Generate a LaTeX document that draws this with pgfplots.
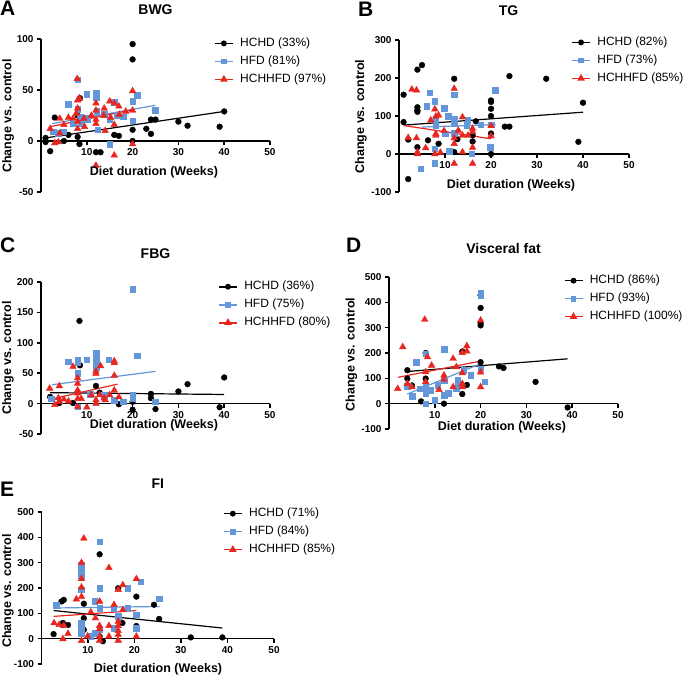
\documentclass[border=0pt]{standalone}
\usepackage{pgfplots}
\pgfplotsset{compat=1.18}
\usepackage{fontspec}
\setmainfont{Liberation Sans}
\definecolor{gpblue}{RGB}{100,150,218}
\definecolor{gpred}{RGB}{232,38,32}
\pgfplotsset{
  gp/.style={
    scale only axis, clip=false,
    axis x line=middle, axis y line=left,
    axis line style={-, line width=1.6pt},
    every inner x axis line/.append style={-},
    every outer y axis line/.append style={-},
    xmin=0, xmax=50, xtick={10,20,30,40,50}, xticklabels={10,20,30,40,50},
    tick align=outside, major tick length=4pt,
    every tick/.style={black, line width=1.6pt},
    tick label style={font=\bfseries\fontsize{10}{12}\selectfont},
    label style={font=\bfseries\fontsize{12.5}{15}\selectfont},
    title style={font=\bfseries\fontsize{14}{16}\selectfont, anchor=base, yshift=18pt},
    xlabel={Diet duration (Weeks)}, ylabel={Change vs. control},
    legend cell align=left,
    legend image code/.code={\draw[mark repeat=2,mark phase=2,#1] plot coordinates {(0pt,0pt) (9pt,0pt) (18pt,0pt)};},
    legend style={draw=none, fill=none, anchor=north west, inner sep=0pt,
      font=\fontsize{12}{14}\selectfont,
      nodes={inner sep=0.5pt, text height=9pt, text depth=3pt},
      row sep=5pt, column sep=6pt},
  },
  bk/.style={only marks, mark=*, mark size=2.9pt, color=black, forget plot},
  bl/.style={only marks, mark=square*, mark size=2.8pt, color=gpblue, mark options={draw=gpblue, fill=gpblue}, forget plot},
  rd/.style={only marks, mark=triangle*, mark size=3.8pt, color=gpred, mark options={draw=gpred, fill=gpred}, forget plot},
  bkl/.style={black, line width=1.2pt, no marks, forget plot},
  bll/.style={gpblue, line width=1.2pt, no marks, forget plot},
  rdl/.style={gpred, line width=1.2pt, no marks, forget plot},
  lbk/.style={black, line width=1.6pt, mark=*, mark size=2.1pt},
  lbl/.style={gpblue, line width=1.6pt, mark=square*, mark size=2.1pt},
  lrd/.style={gpred, line width=1.6pt, mark=triangle*, mark size=2.9pt},
}
\begin{document}
\begin{tikzpicture}
\useasboundingbox (0pt,0pt) rectangle (685pt,675pt);
% ---------------- A: BWG
\begin{axis}[gp, at={(41pt,483pt)}, anchor=south west, width=229pt, height=153pt,
  ymin=-50, ymax=100, ytick={-50,0,50,100}, yticklabels={-50,0,50,100},
  title={BWG}, title style={at={(axis description cs:0.5,1)}},
  xlabel style={at={(axis description cs:0.493,0.111)}, anchor=base},
  ylabel style={at={(axis description cs:-0.129,0.497)}, anchor=base},
  legend style={at={(axis description cs:0.755,1.015)}}]
\addlegendimage{lbk}
\addlegendentry{HCHD (33\%)}
\addlegendimage{lbl}
\addlegendentry{HFD (81\%)}
\addlegendimage{lrd}
\addlegendentry{HCHHFD (97\%)}
\addplot[bk] coordinates {(1,3) (1,-1) (2,-10) (3,23) (5,0) (6,6) (8,4) (8.4,-3) (8.5,42) (8,25) (12,-11) (13,-11) (16,6) (17,5) (20,95) (20,80) (20,11) (20,0) (23,12) (24,7) (24,21) (25,21) (30,19) (32,15) (39,14) (40,29)};
\addplot[bl] coordinates {(2.6,9) (3.8,7.5) (4.8,9) (6,36) (7,17) (8,60) (8,31) (8.6,24) (8.8,17) (9.9,23) (10,46) (10.2,21) (12,47) (12,43) (12.2,29) (12.4,11) (13.8,26) (15,-3) (15,21) (16,38) (16.7,25) (18,24) (20,39) (20,20) (21,45) (25,30)};
\addplot[rd] coordinates {(2,12) (3,-2) (3.8,-1) (4.1,22) (4.1,7.5) (5,16) (6,23) (7,22) (7.9,61) (8,40) (8.4,42) (8,32) (7.7,27) (8,19) (8,12) (9.4,22) (9.5,14) (11,25) (12,37) (12,30) (12,21) (12,17) (12,-24) (13.7,25) (13.8,32) (14,10) (15,39) (15.2,23) (16,37) (16,16) (16,-14) (17,34) (17.1,26) (18.5,29) (20,49) (20,30) (20,-3)};
\addplot[bkl] coordinates {(1,3) (40,29)};
\addplot[bll] coordinates {(2.4,17) (25,35)};
\addplot[rdl] coordinates {(2,14) (20.4,31)};
\end{axis}
% ---------------- B: TG
\begin{axis}[gp, at={(399pt,483pt)}, anchor=south west, width=230pt, height=152pt,
  ymin=-100, ymax=300, ytick={-100,0,100,200,300}, yticklabels={-100,0,100,200,300},
  title={TG}, title style={at={(axis description cs:0.476,1)}},
  xlabel style={at={(axis description cs:0.487,0.026)}, anchor=base},
  ylabel style={at={(axis description cs:-0.152,0.497)}, anchor=base},
  legend style={at={(axis description cs:0.748,1.028)}}]
\addlegendimage{lbk}
\addlegendentry{HCHD (82\%)}
\addlegendimage{lbl}
\addlegendentry{HFD (73\%)}
\addlegendimage{lrd}
\addlegendentry{HCHHFD (85\%)}
\addplot[bk] coordinates {(1,156) (1,84) (2,38) (2,-66) (4,222) (5,234) (4,123) (4,115) (4,111) (4,18) (6.3,36) (8.6,27) (12,198) (12,5) (12.7,39) (16,33) (16,49) (16.7,86) (20,141) (20,137) (20,119) (20,100) (20,54) (20,0) (24,205) (23,72) (24,72) (32,198) (39,32) (40,135)};
\addplot[bl] coordinates {(4.7,-39) (6,125) (6.7,161) (7.8,139) (7.8,14) (7.8,-25) (8,93) (8,75) (9.8,121) (10,53) (10.7,100) (10.9,8) (12,156) (12,93) (12,80) (12,54) (14.7,75) (14.9,89) (15.8,1) (17.8,77) (20,77) (19.8,18) (20.9,168)};
\addplot[rd] coordinates {(2.8,170) (3.8,168) (2,43) (3.8,42) (4,0) (4,5) (5.8,16) (6.9,89) (7.8,118) (8,99) (8.6,102) (8,53) (8,49) (7.8,0) (9,4) (9.8,61) (12,172) (12,42) (12,27) (12,-25) (12.9,62) (13.8,97) (13.8,49) (13.8,5) (15,49) (16,67) (16,58) (16,17) (16,-25) (20,74) (20,47)};
\addplot[bkl] coordinates {(1,76) (40,110)};
\addplot[bll] coordinates {(5,71) (21,77)};
\addplot[rdl] coordinates {(1,75) (20,40)};
\end{axis}
% ---------------- C: FBG
\begin{axis}[gp, at={(41pt,241pt)}, anchor=south west, width=229pt, height=152pt,
  ymin=-50, ymax=200, ytick={-50,0,50,100,150,200}, yticklabels={-50,0,50,100,150,200},
  title={FBG}, title style={at={(axis description cs:0.5,1)}},
  xlabel style={at={(axis description cs:0.493,0.033)}, anchor=base},
  ylabel style={at={(axis description cs:-0.131,0.5)}, anchor=base},
  legend style={at={(axis description cs:0.773,1.013)}}]
\addlegendimage{lbk}
\addlegendentry{HCHD (36\%)}
\addlegendimage{lbl}
\addlegendentry{HFD (75\%)}
\addlegendimage{lrd}
\addlegendentry{HCHHFD (80\%)}
\addplot[bk] coordinates {(2,11) (4,1) (7,1) (8.4,136) (8.5,63) (12,29) (12.8,18) (17,-1) (20,3) (20,-10) (24,16) (24,9) (25,-9) (30,20) (32,32) (39,-6) (40,43)};
\addplot[bl] coordinates {(2.2,8) (6,69) (8,72) (8,67) (8,50) (8,-5) (10,72) (10.8,15) (12,83) (12,78) (12,69) (12,60) (13.8,14) (14.8,72) (16,6) (18,3) (20,188) (20,14) (20,9) (21,79) (25,3)};
\addplot[rd] coordinates {(1.9,25) (3,-2) (3.8,9) (4,29) (4,3) (5,7) (6,4) (7,61) (8,42) (8,33) (8,22) (8,17) (8,8) (8,-5) (8.8,8) (10,-6) (11,14) (12,53) (12,49) (12,6) (12,0) (12.8,14) (13,62) (13.8,9) (14,6) (15,14) (16,70) (16,67) (16,46) (16,22) (17,11)};
\addplot[bkl] coordinates {(2,18) (40,15)};
\addplot[bll] coordinates {(2.4,31) (25,53)};
\addplot[rdl] coordinates {(2,7) (16.7,32)};
\end{axis}
% ---------------- D: Visceral fat
\begin{axis}[gp, at={(389pt,246pt)}, anchor=south west, width=229pt, height=152pt,
  ymin=-100, ymax=500, ytick={-100,0,100,200,300,400,500}, yticklabels={-100,0,100,200,300,400,500},
  title={Visceral fat}, title style={at={(axis description cs:0.5,1)}},
  xlabel style={at={(axis description cs:0.493,-0.007)}, anchor=base},
  ylabel style={at={(axis description cs:-0.15,0.49)}, anchor=base},
  legend style={at={(axis description cs:0.762,1.02)}}]
\addlegendimage{lbk}
\addlegendentry{HCHD (86\%)}
\addlegendimage{lbl}
\addlegendentry{HFD (93\%)}
\addlegendimage{lrd}
\addlegendentry{HCHHFD (100\%)}
\addplot[bk] coordinates {(4,132) (4,99) (5,72) (7,9) (8,200) (8,99) (12,0) (16,206) (16,38) (17,74) (20,428) (20,378) (20,318) (20,309) (20,164) (24,147) (25,141) (32,86) (39,-15)};
\addplot[bl] coordinates {(4,70) (5,29) (6,164) (6.7,59) (8,197) (8,72) (8,53) (8,40) (8,0) (9,53) (10,13) (10.6,72) (12,214) (12,92) (12,33) (12.9,42) (14.7,59) (15,92) (15,72) (16.3,132) (17.8,112) (20,437) (20,428) (20,138) (20.9,86)};
\addplot[rd] coordinates {(1.9,59) (3,224) (4,79) (5,66) (7.8,332) (8,125) (8,86) (8.4,184) (9.3,151) (10.9,55) (12,112) (12,95) (14,178) (14,66) (14.7,145) (16,201) (16,121) (16,79) (16,66) (17,228) (17,207) (20,329) (20,124) (20,66)};
\addplot[bkl] coordinates {(4,127) (39,177)};
\addplot[bll] coordinates {(4,38) (20,158)};
\addplot[rdl] coordinates {(2,104) (20,168)};
\end{axis}
% ---------------- E: FI
\begin{axis}[gp, at={(41.5pt,11pt)}, anchor=south west, width=232.5pt, height=152pt,
  ymin=-100, ymax=500, ytick={-100,0,100,200,300,400,500}, yticklabels={-100,0,100,200,300,400,500},
  title={FI}, title style={at={(axis description cs:0.5,1)}},
  xlabel style={at={(axis description cs:0.501,-0.059)}, anchor=base},
  ylabel style={at={(axis description cs:-0.131,0.48)}, anchor=base},
  legend style={at={(axis description cs:0.78,1.033)}}]
\addlegendimage{lbk}
\addlegendentry{HCHD (71\%)}
\addlegendimage{lbl}
\addlegendentry{HFD (84\%)}
\addlegendimage{lrd}
\addlegendentry{HCHHFD (85\%)}
\addplot[bk] coordinates {(2.6,18) (4.3,147) (4.8,153) (4.6,62) (4.6,54) (5.7,54) (9.1,138) (9.1,81) (9.1,35) (12.5,333) (12.5,9) (13.2,-10) (16.5,199) (17.4,62) (20.4,166) (20.4,50) (24.2,134) (25.3,78) (32.1,5) (38.9,5)};
\addplot[bl] coordinates {(3.2,131) (8.6,291) (8.6,278) (8.6,265) (8.6,248) (8.6,193) (8.6,62) (8.6,35) (8.6,22) (10.6,9) (11.4,149) (11.6,22) (12.5,383) (12.5,199) (12.5,121) (12.5,35) (15.5,121) (15.5,42) (16.5,88) (18.5,199) (18.5,121) (20.4,94) (20.4,42) (21.3,225) (25.3,157)};
\addplot[rd] coordinates {(2.7,62) (3.8,55) (4.8,52) (4.6,-1) (5.7,20) (7.5,156) (8.6,300) (8.6,236) (8.6,203) (8.6,166) (8.6,-8) (9.1,396) (9.9,9) (10.6,105) (11.6,81) (12.5,147) (12.5,51) (12.5,38) (12.5,9) (12.5,-7) (14.5,280) (14.5,51) (14.5,9) (15.6,134) (16.5,193) (16.5,68) (16.5,51) (16.5,31) (16.5,16) (16.5,-7) (17.5,212) (17.5,114) (20.4,236) (20.4,9)};
\addplot[bkl] coordinates {(2.6,111) (38.9,42)};
\addplot[bll] coordinates {(2.6,121) (25.4,127)};
\addplot[rdl] coordinates {(2.6,88) (20.4,111)};
\end{axis}
% panel letters
\node[anchor=base west, inner sep=0pt, font=\bfseries\fontsize{21}{24}\selectfont] at (0pt,659pt) {A};
\node[anchor=base west, inner sep=0pt, font=\bfseries\fontsize{21}{24}\selectfont] at (358pt,658.5pt) {B};
\node[anchor=base west, inner sep=0pt, font=\bfseries\fontsize{21}{24}\selectfont] at (0pt,422.5pt) {C};
\node[anchor=base west, inner sep=0pt, font=\bfseries\fontsize{21}{24}\selectfont] at (346pt,422pt) {D};
\node[anchor=base west, inner sep=0pt, font=\bfseries\fontsize{21}{24}\selectfont] at (0pt,178.5pt) {E};
\end{tikzpicture}
\end{document}
